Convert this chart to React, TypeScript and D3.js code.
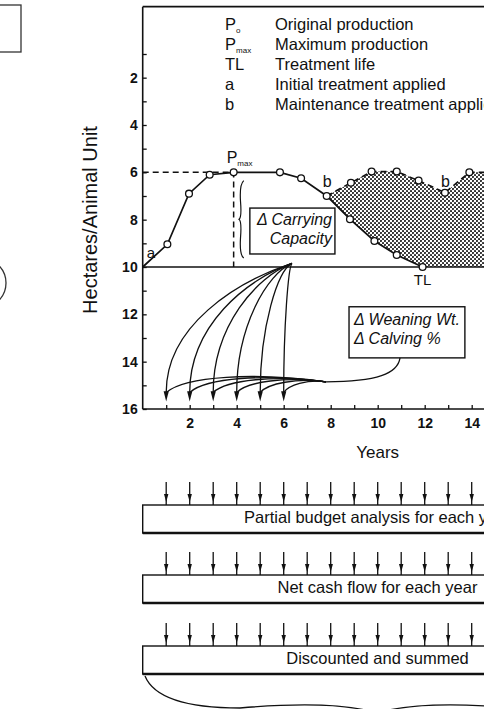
import React, { Component, createRef } from "react"
import * as d3 from "d3"

// axis ticks
const xTickLabels = [2, 4, 6, 8, 10, 12, 14];
const xMinorTicks = [1, 3, 5, 7, 9, 11, 13];
const yTickLabels = [2, 4, 6, 8, 10, 12, 14, 16];
const yMinorTicks = [1, 3, 5, 7, 9, 11, 13, 15];

// production after the initial treatment (hectares per animal unit)
const treatYears = [0, 1.05, 1.97, 2.85, 3.87, 5.84, 6.74, 7.83, 8.82, 9.86, 10.81, 11.91];
const treatHa = [10, 9.04, 6.9, 6.1, 6.0, 6.0, 6.25, 7.0, 7.98, 8.9, 9.49, 10];

// production with maintenance treatments
const maintYears = [7.83, 8.86, 9.74, 10.81, 11.74, 12.86, 13.9, 14.8];
const maintHa = [7.0, 6.44, 5.97, 5.97, 6.35, 6.86, 6.0, 6.0];

const pmaxYear = 3.87;
const pmaxHa = 6;
const tlYear = 11.91;
const bYears = [7.83, 12.86];

// weaning wt / calving % effects fed back to years 1-6
const fanYears = [1, 2, 3, 4, 5, 6];
const fanApexYear = 6.35;
const backYear = 7.8;
const backHa = 14.85;

// yearly inputs into the budget steps
const budgetYears = [1, 2, 3, 4, 5, 6, 7, 8, 9, 10, 11, 12, 13, 14, 15, 16, 17, 18, 19];
const budgetSteps = ["Partial budget analysis for each year", "Net cash flow for each year", "Discounted and summed"];

const legendKeys = ["P", "P", "TL", "a", "b"];
const legendSubs = ["o", "max", "", "", ""];
const legendTexts = ["Original production", "Maximum production", "Treatment life", " Initial treatment applied", "Maintenance treatment applied"];

type Pt = [number, number];

class App extends Component {
  svgRef = createRef<SVGSVGElement>();

  componentDidMount() {
    this.drawChart();
  }

  componentDidUpdate() {
    this.drawChart();
  }

  drawChart() {
    const width = 484;
    const font = "'Liberation Sans', Arial, Helvetica, sans-serif";
    const ink = "#111";
    const svg = d3.select(this.svgRef.current);
    svg.selectAll("*").remove();
    svg.attr("font-family", font);

    const x = d3.scaleLinear().domain([0, 14]).range([142.7, 471.7]);
    const y = d3.scaleLinear().domain([10, 16]).range([267, 409]);
    const line = d3.line<Pt>().x(d => x(d[0])).y(d => y(d[1]));

    const defs = svg.append("defs");
    const pat = defs.append("pattern").attr("id", "stipple").attr("patternUnits", "userSpaceOnUse")
      .attr("width", 4).attr("height", 4);
    pat.append("rect").attr("width", 4).attr("height", 4).attr("fill", "#fff");
    pat.append("circle").attr("cx", 1).attr("cy", 1).attr("r", 1.05).attr("fill", "#222");
    pat.append("circle").attr("cx", 3).attr("cy", 3).attr("r", 1.05).attr("fill", "#222");

    // bits of the neighbouring figure on the left
    svg.append("rect").attr("x", -40).attr("y", 5).attr("width", 61).attr("height", 47)
      .attr("fill", "none").attr("stroke", "#333").attr("stroke-width", 1.3);
    svg.append("circle").attr("cx", -19).attr("cy", 283).attr("r", 25)
      .attr("fill", "none").attr("stroke", "#333").attr("stroke-width", 1.3);

    // shaded gain from maintenance
    const upper: Pt[] = maintYears.map((d, i) => [d, maintHa[i]]);
    const lower: Pt[] = treatYears.map((d, i) => [d, treatHa[i]] as Pt).filter(d => d[0] >= maintYears[0]);
    lower.push([maintYears[maintYears.length - 1], 10]);
    svg.append("path").attr("d", line(upper.concat(lower.reverse())) + "Z")
      .attr("fill", "url(#stipple)").attr("stroke", "none");

    // frame and axes
    svg.append("line").attr("x1", x(0)).attr("x2", width).attr("y1", y(-1)).attr("y2", y(-1))
      .attr("stroke", ink).attr("stroke-width", 1.6);
    svg.append("line").attr("x1", x(0)).attr("x2", x(0)).attr("y1", y(-1)).attr("y2", y(16))
      .attr("stroke", ink).attr("stroke-width", 1.6);
    svg.append("line").attr("x1", x(0)).attr("x2", width).attr("y1", y(10)).attr("y2", y(10))
      .attr("stroke", ink).attr("stroke-width", 1.6);
    svg.append("line").attr("x1", x(0)).attr("x2", width).attr("y1", y(16)).attr("y2", y(16))
      .attr("stroke", ink).attr("stroke-width", 1.6);

    const yAxis = svg.append("g").attr("transform", `translate(${x(0)},0)`)
      .call(d3.axisLeft(y).tickValues(yTickLabels).tickFormat(d3.format("d")).tickSizeInner(-4).tickSizeOuter(0).tickPadding(5));
    svg.append("g").attr("transform", `translate(${x(0)},0)`)
      .call(d3.axisLeft(y).tickValues(yMinorTicks).tickSizeInner(-4).tickSizeOuter(0).tickFormat(() => ""));
    const xAxis = svg.append("g").attr("transform", `translate(0,${y(16)})`)
      .call(d3.axisBottom(x).tickValues(xTickLabels).tickFormat(d3.format("d")).tickSizeInner(-4).tickSizeOuter(0).tickPadding(9));
    svg.append("g").attr("transform", `translate(0,${y(16)})`)
      .call(d3.axisBottom(x).tickValues(xMinorTicks).tickSizeInner(-4).tickSizeOuter(0).tickFormat(() => ""));
    svg.selectAll(".domain").remove();
    svg.selectAll(".tick line").attr("stroke", ink).attr("stroke-width", 1.3);
    [yAxis, xAxis].forEach(g => g.selectAll("text").attr("font-family", font).attr("font-size", 14)
      .attr("font-weight", "bold").attr("fill", ink));

    svg.append("text").attr("transform", `translate(97,220) rotate(-90)`).attr("text-anchor", "middle")
      .attr("font-size", 20).attr("fill", ink).text("Hectares/Animal Unit");
    svg.append("text").attr("x", x(10)).attr("y", 458).attr("text-anchor", "middle")
      .attr("font-size", 17).attr("fill", ink).text("Years");

    // legend
    const leg = svg.append("g").attr("font-size", 16.5).attr("fill", ink);
    legendKeys.forEach((k, i) => {
      const by = 29.5 + i * 20.1;
      const t = leg.append("text").attr("x", 225).attr("y", by);
      t.append("tspan").text(k);
      if (legendSubs[i]) t.append("tspan").attr("font-size", 8).attr("dy", 3).text(legendSubs[i]);
      leg.append("text").attr("x", 275).attr("y", by).text(legendTexts[i]);
    });

    // Pmax guides
    svg.append("path").attr("d", line([[0, pmaxHa], [pmaxYear, pmaxHa], [pmaxYear, 10]]))
      .attr("fill", "none").attr("stroke", ink).attr("stroke-width", 1.5).attr("stroke-dasharray", "6,4");

    // treatment lines
    svg.append("path").attr("d", line(upper)).attr("fill", "none").attr("stroke", ink)
      .attr("stroke-width", 1.6).attr("stroke-dasharray", "6,4");
    const treatPts: Pt[] = treatYears.map((d, i) => [d, treatHa[i]]);
    svg.append("path").attr("d", line(treatPts)).attr("fill", "none").attr("stroke", ink).attr("stroke-width", 1.7);

    const circles = treatPts.slice(1).concat(upper.slice(1, upper.length - 1));
    svg.selectAll("circle.pt").data(circles).join("circle").attr("class", "pt")
      .attr("cx", d => x(d[0])).attr("cy", d => y(d[1])).attr("r", 3.4)
      .attr("fill", "#fff").attr("stroke", ink).attr("stroke-width", 1.3);

    // labels on the curve
    const pm = svg.append("text").attr("x", x(pmaxYear) - 7).attr("y", 163).attr("font-size", 16).attr("fill", ink);
    pm.append("tspan").text("P");
    pm.append("tspan").attr("font-size", 8).attr("dy", 3).text("max");
    svg.append("text").attr("x", x(0) + 4).attr("y", 258).attr("font-size", 15).attr("fill", ink).text("a");
    const bLift = [9, 6];
    bYears.forEach((b, i) => {
      const yi = maintYears.indexOf(b);
      svg.append("text").attr("x", x(b) - 4).attr("y", y(maintHa[yi]) - bLift[i])
        .attr("font-size", 16).attr("fill", ink).text("b");
    });
    svg.append("text").attr("x", x(tlYear)).attr("y", 285).attr("text-anchor", "middle")
      .attr("font-size", 15).attr("fill", ink).text("TL");

    // carrying capacity note
    const brace = d3.path();
    brace.moveTo(x(4.3), y(6.35));
    brace.quadraticCurveTo(x(4.12), y(6.5), x(4.16), y(7.2));
    brace.quadraticCurveTo(x(4.22), y(7.9), x(4.1), y(7.98));
    brace.quadraticCurveTo(x(4.22), y(8.06), x(4.16), y(8.8));
    brace.quadraticCurveTo(x(4.12), y(9.5), x(4.3), y(9.62));
    svg.append("path").attr("d", brace.toString()).attr("fill", "none").attr("stroke", ink).attr("stroke-width", 1.2);
    svg.append("rect").attr("x", x(4.56)).attr("y", y(7.51)).attr("width", x(8.18) - x(4.56))
      .attr("height", y(9.45) - y(7.51)).attr("fill", "#fff").attr("stroke", ink).attr("stroke-width", 1.4);
    const cc = svg.append("g").attr("font-size", 16).attr("font-style", "italic").attr("fill", ink).attr("text-anchor", "end");
    cc.append("text").attr("x", 332).attr("y", 225).text("\u0394 Carrying");
    cc.append("text").attr("x", 332).attr("y", 243.5).text("Capacity");

    // weaning wt / calving box
    svg.append("rect").attr("x", x(8.78)).attr("y", y(11.68)).attr("width", x(13.71) - x(8.78))
      .attr("height", y(13.84) - y(11.68)).attr("fill", "#fff").attr("stroke", ink).attr("stroke-width", 1.4);
    const wb = svg.append("g").attr("font-size", 16).attr("font-style", "italic").attr("fill", ink);
    wb.append("text").attr("x", 354).attr("y", 325).text("\u0394 Weaning Wt.");
    wb.append("text").attr("x", 354).attr("y", 343.5).text("\u0394 Calving %");

    // fan of curves from carrying capacity back to each year
    const fan = svg.append("g").attr("fill", "none").attr("stroke", ink).attr("stroke-width", 1.3);
    fanYears.forEach(t => {
      const d = fanApexYear - t;
      const p = d3.path();
      p.moveTo(x(fanApexYear), y(9.85));
      p.bezierCurveTo(x(fanApexYear - 0.45 * d), y(10 + 0.12 * d), x(t), y(12.5), x(t), y(15.3));
      fan.append("path").attr("d", p.toString());
      const q = d3.path();
      const e = backYear - t;
      q.moveTo(x(backYear), y(backHa));
      q.bezierCurveTo(x(t + 0.55 * e), y(14.85 - 0.06 * e), x(t + 0.12 * e), y(14.6 + 0.08 * (t - 1)), x(t), y(15.3));
      fan.append("path").attr("d", q.toString());
    });
    const s = d3.path();
    s.moveTo(x(10.95), y(13.84));
    s.bezierCurveTo(x(10.85), y(14.5), x(10.0), y(backHa), x(backYear), y(backHa));
    fan.append("path").attr("d", s.toString());
    svg.selectAll("path.head").data(fanYears).join("path").attr("class", "head")
      .attr("d", t => `M${x(t) - 2.6},${y(15.25)}L${x(t) + 2.6},${y(15.25)}L${x(t)},${y(15.68)}Z`)
      .attr("fill", ink);

    // budget steps
    const boxTops = [505, 575, 646];
    budgetSteps.forEach((label, i) => {
      const top = boxTops[i];
      const g = svg.append("g");
      budgetYears.forEach(yr => {
        const cx = x(yr);
        g.append("line").attr("x1", cx).attr("x2", cx).attr("y1", top - 23).attr("y2", top)
          .attr("stroke", ink).attr("stroke-width", 1.3);
        g.append("path").attr("d", `M${cx - 2.2},${top - 11}L${cx + 2.2},${top - 11}L${cx},${top - 3}Z`).attr("fill", ink);
      });
      g.append("rect").attr("x", x(0)).attr("y", top).attr("width", x(20) - x(0)).attr("height", 28)
        .attr("fill", "#fff").attr("stroke", ink).attr("stroke-width", 1.4);
      g.append("line").attr("x1", x(0)).attr("x2", x(20)).attr("y1", top + 28).attr("y2", top + 28)
        .attr("stroke", ink).attr("stroke-width", 2.4);
      g.append("text").attr("x", 377.5).attr("y", top + 17.5).attr("text-anchor", "middle")
        .attr("font-size", 16.5).attr("fill", ink).text(label);
    });

    const bb = d3.path();
    bb.moveTo(145, 676);
    bb.quadraticCurveTo(158, 708, 240, 708);
    bb.quadraticCurveTo(335, 700, 377, 713);
    bb.quadraticCurveTo(420, 700, 515, 708);
    bb.quadraticCurveTo(597, 708, 610, 676);
    svg.append("path").attr("d", bb.toString()).attr("fill", "none").attr("stroke", ink).attr("stroke-width", 1.3);
  }

  render() {
    return (
      <svg ref={this.svgRef} width={484} height={709}
        style={{ position: "absolute", left: 0, top: 0, background: "#fff" }} />
    );
  }
}

export default App;
